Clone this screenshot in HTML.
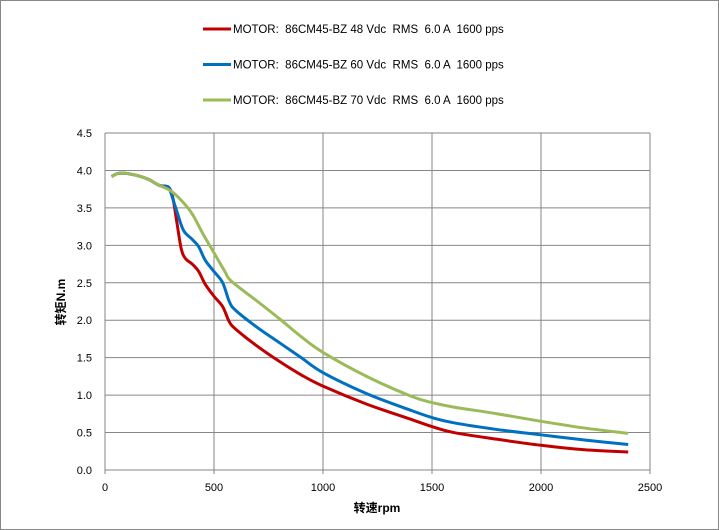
<!DOCTYPE html>
<html><head><meta charset="utf-8"><style>
html,body{margin:0;padding:0;background:#fff}
svg{display:block;font-family:"Liberation Sans","Noto Sans CJK SC",sans-serif}
</style></head><body>
<svg id="c" width="719" height="530">
<rect x="0.5" y="0.5" width="718" height="529" fill="#fff" stroke="#888"/>
<g id="grid"></g><g id="series"></g><g id="legend"></g>
<text x="65" y="302" font-size="12" font-weight="bold" transform="rotate(-90 65 302)" text-anchor="middle">转矩N.m</text>
<text x="377" y="512" font-size="12" font-weight="bold" text-anchor="middle">转速rpm</text>
</svg>
<script>
const xTicks=[0,500,1000,1500,2000,2500];
const yTicks=[0,0.5,1,1.5,2,2.5,3,3.5,4,4.5];
const yTickLabels=["0.0","0.5","1.0","1.5","2.0","2.5","3.0","3.5","4.0","4.5"];
const legendLabels=["MOTOR:  86CM45-BZ 48 Vdc  RMS  6.0 A  1600 pps","MOTOR:  86CM45-BZ 60 Vdc  RMS  6.0 A  1600 pps","MOTOR:  86CM45-BZ 70 Vdc  RMS  6.0 A  1600 pps"];
const colors=["#c00000","#0070c0","#9bbb59"];
const rpm48=[30,60,100,150,200,250,290,310,330,350,370,400,430,460,500,540,570,600,700,800,900,1000,1200,1400,1500,1600,1800,2000,2200,2400];
const t48=[3.92,3.96,3.96,3.93,3.88,3.80,3.78,3.65,3.3,2.95,2.82,2.75,2.65,2.48,2.32,2.18,1.98,1.88,1.65,1.45,1.27,1.12,0.88,0.68,0.58,0.50,0.41,0.33,0.27,0.24];
const rpm60=[30,60,100,150,200,250,290,300,330,360,400,430,460,500,540,570,600,700,800,900,1000,1200,1400,1500,1600,1800,2000,2200,2400];
const t60=[3.92,3.96,3.96,3.93,3.88,3.80,3.78,3.72,3.45,3.2,3.08,2.98,2.8,2.65,2.50,2.25,2.13,1.9,1.70,1.50,1.30,1.02,0.80,0.70,0.63,0.54,0.47,0.40,0.34];
const rpm70=[30,60,100,150,200,250,300,350,400,450,500,550,580,700,800,900,1000,1200,1400,1500,1600,1800,2000,2200,2400];
const t70=[3.92,3.96,3.96,3.93,3.88,3.80,3.73,3.6,3.42,3.15,2.90,2.65,2.52,2.25,2.02,1.78,1.57,1.25,0.99,0.90,0.84,0.75,0.65,0.56,0.49];
const X=v=>105+v*(545/2500), Y=v=>470-v*(337/4.5);
const NS="http://www.w3.org/2000/svg";
function mk(t,a,p){const e=document.createElementNS(NS,t);for(const k in a)e.setAttribute(k,a[k]);p.appendChild(e);return e;}
const g=document.getElementById('grid');
yTicks.forEach((v,i)=>{
 const l=mk('line',{x1:105,x2:650,y1:Y(v),y2:Y(v),stroke:'#868686','stroke-width':1},g);
 
 
 const t=mk('text',{x:92,y:Y(v)+4,'font-size':11,'text-anchor':'end'},g);t.textContent=yTickLabels[i];
 
 
});
xTicks.forEach(v=>{
 const l=mk('line',{x1:X(v),x2:X(v),y1:Y(4.5),y2:Y(0)+4,stroke:'#868686','stroke-width':1},g);
 
 
 const t=mk('text',{x:X(v),y:491,'font-size':11,'text-anchor':'middle'},g);t.textContent=v;
 
 
});
function path(xs,ys){const p=xs.map((x,i)=>[X(x),Y(ys[i])]);let d='M'+p[0];
 for(let i=0;i<p.length-1;i++){const p0=p[i-1]||p[i],p1=p[i],p2=p[i+1],p3=p[i+2]||p2;
  const c1=[p1[0]+(p2[0]-p0[0])/6,p1[1]+(p2[1]-p0[1])/6],c2=[p2[0]-(p3[0]-p1[0])/6,p2[1]-(p3[1]-p1[1])/6];
  d+='C'+c1+' '+c2+' '+p2;}return d;}
const s=document.getElementById('series');
[[rpm48,t48],[rpm60,t60],[rpm70,t70]].forEach((d,i)=>{
 const e=mk('path',{d:path(d[0],d[1]),fill:'none',stroke:colors[i],'stroke-width':3,'stroke-linejoin':'round'},s);
 
 
});
const lg=document.getElementById('legend');
legendLabels.forEach((t,i)=>{
 const y=29+i*35.5;
 const l=mk('line',{x1:203,x2:231,y1:y,y2:y,stroke:colors[i],'stroke-width':3},lg);
 
 
 const tx=mk('text',{x:233,y:y+4,'font-size':11.5,'xml:space':'preserve'},lg);tx.textContent=t;
 
 
 tx.style.whiteSpace='pre';
});
</script>
</body></html>
